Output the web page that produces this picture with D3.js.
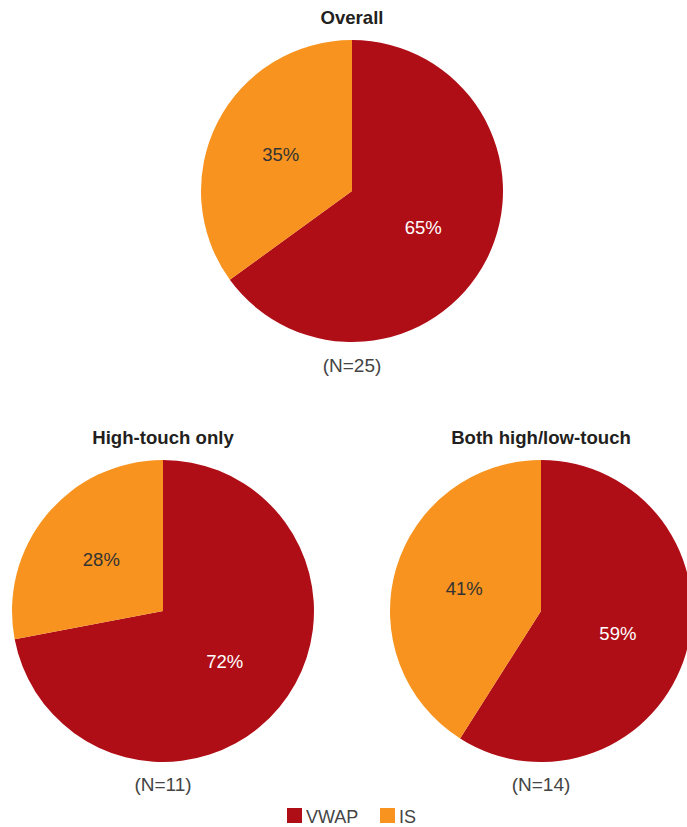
<!DOCTYPE html>
<html><head><meta charset="utf-8">
<script src="https://cdn.jsdelivr.net/npm/d3@7"></script>
<style>
html,body{margin:0;padding:0;background:#fff;}
text{font-family:"Liberation Sans",Arial,Helvetica,sans-serif;}
</style></head>
<body>
<svg id="chart" width="687" height="827"></svg>
<script>
const categories = ["VWAP", "IS"];
const colors = ["#B00E17", "#F7931E"];
const labelColors = ["#ffffff", "#333333"];
const panelTitles = ["Overall", "High-touch only", "Both high/low-touch"];
const panelN = ["(N=25)", "(N=11)", "(N=14)"];
const vwapValues = [65, 72, 59];
const isValues = [35, 28, 41];

const svg = d3.select("#chart");
const layout = [
  {cx: 352, cy: 191, r: 151, ty: 24, ny: 372},
  {cx: 163, cy: 611, r: 151, ty: 444, ny: 791},
  {cx: 541, cy: 611, r: 151, ty: 444, ny: 791}
];
const pie = d3.pie().sort(null).value(d => d.v);
const color = d3.scaleOrdinal().domain(categories).range(colors);
const lblColor = d3.scaleOrdinal().domain(categories).range(labelColors);

panelTitles.forEach((title, i) => {
  const L = layout[i];
  const data = categories.map((c, j) => ({c, v: j === 0 ? vwapValues[i] : isValues[i]}));
  const g = svg.append("g").attr("transform", `translate(${L.cx},${L.cy})`);
  const arc = d3.arc().innerRadius(0).outerRadius(L.r);
  const lab = d3.arc().innerRadius(L.r * 0.53).outerRadius(L.r * 0.53);
  const arcs = pie(data);
  g.selectAll("path").data(arcs).join("path")
    .attr("d", arc).attr("fill", d => color(d.data.c));
  g.selectAll("text.pct").data(arcs).join("text").attr("class", "pct")
    .attr("transform", d => `translate(${lab.centroid(d)})`)
    .attr("text-anchor", "middle").attr("dy", "0.35em")
    .attr("font-size", 18.5).attr("fill", d => lblColor(d.data.c))
    .text(d => d.data.v + "%");
  svg.append("text").attr("x", L.cx).attr("y", L.ty)
    .attr("text-anchor", "middle").attr("font-size", 18.6).attr("font-weight", "bold")
    .attr("fill", "#231f20").text(title);
  svg.append("text").attr("x", L.cx).attr("y", L.ny)
    .attr("text-anchor", "middle").attr("font-size", 19)
    .attr("fill", "#444").text(panelN[i]);
});

const legX = [287, 380];
const leg = svg.append("g");
categories.forEach((c, j) => {
  leg.append("rect").attr("x", legX[j]).attr("y", 808).attr("width", 15).attr("height", 15)
    .attr("fill", color(c));
  leg.append("text").attr("x", legX[j] + 19).attr("y", 822.5)
    .attr("font-size", 18).attr("fill", "#444").text(c);
});
</script>
</body></html>
